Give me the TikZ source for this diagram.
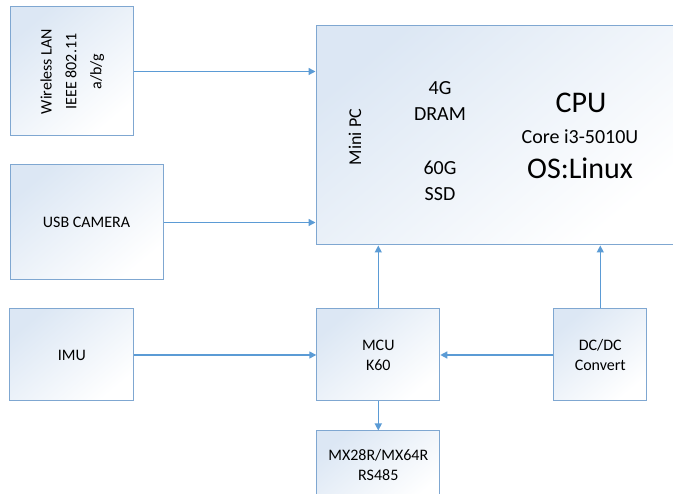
\documentclass[tikz,border=0pt]{standalone}
\usepackage{fontspec}
\setmainfont{Carlito}
\usetikzlibrary{arrows.meta, positioning}
\definecolor{edge}{HTML}{7FA7D1}
\definecolor{wire}{HTML}{5B9BD5}
\definecolor{boxtop}{HTML}{DCE7F4}

\begin{document}
\begin{tikzpicture}[x=1pt, y=-1pt,
      font=\fontsize{16}{20}\selectfont,
      box/.style={draw=edge, line width=1pt, top color=boxtop, bottom color=white,
                  shading angle=40, inner sep=0pt, align=center},
      arr/.style={-{Triangle[length=7pt, width=7pt]}, line width=1.4pt, wire}]
    \useasboundingbox (0,0) rectangle (673,494);
    \node[box, minimum width=357pt, minimum height=219pt] (minipc) at (494.5,135.5) {};
    \node[box, minimum width=123pt, minimum height=129pt] (wlan) at (71.5,71.5)
      {\rotatebox{90}{\renewcommand\arraystretch{1.25}\begin{tabular}{@{}c@{}}Wireless LAN\\IEEE 802.11\\a/b/g\end{tabular}}};
    \node[box, minimum width=153pt, minimum height=115pt] (cam) at (86.5,222.5) {USB CAMERA};
    \node[box, minimum width=123pt, minimum height=92pt] (mcu) at (378.3,355) {MCU\\K60};
    \node[box, minimum width=124pt, minimum height=92pt, left=182pt of mcu] (imu) {IMU};
    \node[box, minimum width=93pt, minimum height=92pt, right=113pt of mcu] (dcdc) {DC/DC\\Convert};
    \node[box, minimum width=123pt, minimum height=72pt, below=29pt of mcu] (servo)
      {\raisebox{12pt}{\begin{tabular}{@{}c@{}}MX28R/MX64R\\RS485\end{tabular}}};
    % text inside the Mini PC
    \node[rotate=90, font=\fontsize{18}{22}\selectfont] (pclabel) at (355,137) {Mini PC};
    \node[align=center, font=\fontsize{20}{26}\selectfont] (dram) at (440,101) {4G\\DRAM};
    \node[align=center, font=\fontsize{20}{26}\selectfont] (ssd) at (440,181) {60G\\SSD};
    \node[font=\fontsize{30}{34}\selectfont] (cpu) at (581,103) {CPU};
    \node[font=\fontsize{20}{24}\selectfont] (core) at (580,137) {Core i3-5010U};
    \node[font=\fontsize{30}{34}\selectfont] (os) at (580,168) {OS:Linux};
    % connections
    \draw[arr] (wlan) -- (wlan -| minipc.west);
    \draw[arr] (cam) -- (cam -| minipc.west);
    \draw[arr] (imu) -- (mcu);
    \draw[arr] (dcdc) -- (dcdc -| mcu.east);
    \draw[arr] (mcu) -- (mcu |- minipc.south);
    \draw[arr] (dcdc) -- (dcdc |- minipc.south);
    \draw[arr] (mcu) -- (servo);
  \end{tikzpicture}
\end{document}
